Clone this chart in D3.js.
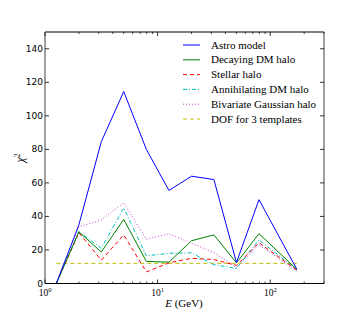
<!DOCTYPE html>
<html><head><meta charset="utf-8">
<script src="https://cdn.jsdelivr.net/npm/d3@7"></script>
<style>html,body{margin:0;padding:0;background:#fff;} svg{display:block;}</style>
</head><body>
<svg id="c" width="360" height="315"></svg>
<script>
const energies = [1.26, 2.0, 3.16, 5.0, 7.94, 12.6, 20.0, 31.6, 50.1, 79.4, 172];
const astro     = [0, 35, 84.5, 114.5, 80, 55.5, 64, 62, 12.5, 50, 8.5];
const decaying  = [0, 30.8, 18.8, 38.2, 13.2, 12.7, 25.5, 29, 12.3, 29.7, 8.4];
const stellar   = [0, 30.3, 13.9, 29, 6.9, 12.3, 15, 14.3, 10.8, 24.3, 8];
const annihil   = [0, 31, 21, 45, 16.5, 18, 18.3, 11.2, 9, 26, 8.2];
const bivariate = [0, 33.8, 37.8, 48.2, 26.3, 29.7, 24, 18.5, 9.5, 23.2, 7.2];
const dof       = [12, 12, 12, 12, 12, 12, 12, 12, 12, 12, 12];
const seriesNames = ["Astro model", "Decaying DM halo", "Stellar halo", "Annihilating DM halo", "Bivariate Gaussian halo", "DOF for 3 templates"];
const yTicks = [0, 20, 40, 60, 80, 100, 120, 140];
const xTicks = [1, 10, 100];
const xTickExp = ["0", "1", "2"];

const series = [
  {name: seriesNames[0], values: astro,     color: "#0000ff", dash: null},
  {name: seriesNames[1], values: decaying,  color: "#008000", dash: null},
  {name: seriesNames[2], values: stellar,   color: "#ff0000", dash: "4,3"},
  {name: seriesNames[3], values: annihil,   color: "#00bfbf", dash: "4,2,1,2"},
  {name: seriesNames[4], values: bivariate, color: "#d040d0", dash: "1,2"},
  {name: seriesNames[5], values: dof,       color: "#bfbf00", dash: "4,3"}
];

const svg = d3.select("#c");
const L = 45, R = 324, T = 32, B = 283.5;
const x = d3.scaleLog().domain([1, 300]).range([L, R]);
const y = d3.scaleLinear().domain([0, 150]).range([B, T]);

const serif = "'Liberation Serif', 'DejaVu Serif', serif";
const sans = "'DejaVu Sans', sans-serif";

const line = d3.line().x((d, i) => x(energies[i])).y(d => y(d));
svg.append("clipPath").attr("id", "clip").append("rect").attr("x", L).attr("y", T).attr("width", R - L).attr("height", B - T);
[5, 4, 3, 2, 1, 0].forEach(k => {
  const s = series[k];
  svg.append("path").datum(s.values).attr("d", line)
    .attr("fill", "none").attr("stroke", s.color).attr("stroke-width", 1)
    .attr("stroke-dasharray", s.dash).attr("clip-path", "url(#clip)");
});

// frame
svg.append("line").attr("x1", L).attr("x2", R).attr("y1", T).attr("y2", T).attr("stroke", "#000").attr("stroke-width", 1);
svg.append("line").attr("x1", L).attr("x2", R).attr("y1", B).attr("y2", B).attr("stroke", "#000").attr("stroke-width", 1);
svg.append("line").attr("x1", L).attr("x2", L).attr("y1", T).attr("y2", B).attr("stroke", "#888").attr("stroke-width", 1.6);
svg.append("line").attr("x1", R).attr("x2", R).attr("y1", T).attr("y2", B).attr("stroke", "#888").attr("stroke-width", 1.6);

// y ticks
yTicks.forEach(v => {
  svg.append("line").attr("x1", L).attr("x2", L + 4).attr("y1", y(v)).attr("y2", y(v)).attr("stroke", "#000").attr("stroke-width", 0.8);
  svg.append("line").attr("x1", R - 4).attr("x2", R).attr("y1", y(v)).attr("y2", y(v)).attr("stroke", "#000").attr("stroke-width", 0.8);
  svg.append("text").attr("x", L - 2).attr("y", y(v) + 3).attr("text-anchor", "end")
    .attr("font-family", sans).attr("font-size", 9).text(v);
});

// x ticks
const minor = [];
for (let e = 0; e <= 2; e++) for (let m = 2; m <= 9; m++) { const v = m * Math.pow(10, e); if (v <= 300) minor.push(v); }
minor.forEach(v => {
  svg.append("line").attr("x1", x(v)).attr("x2", x(v)).attr("y1", B).attr("y2", B - 2).attr("stroke", "#000").attr("stroke-width", 0.7);
  svg.append("line").attr("x1", x(v)).attr("x2", x(v)).attr("y1", T).attr("y2", T + 2).attr("stroke", "#000").attr("stroke-width", 0.7);
});
xTicks.forEach((v, i) => {
  svg.append("line").attr("x1", x(v)).attr("x2", x(v)).attr("y1", B).attr("y2", B - 4).attr("stroke", "#000").attr("stroke-width", 0.8);
  svg.append("line").attr("x1", x(v)).attr("x2", x(v)).attr("y1", T).attr("y2", T + 4).attr("stroke", "#000").attr("stroke-width", 0.8);
  const t = svg.append("text").attr("x", x(v)).attr("y", 295.5).attr("text-anchor", "middle")
    .attr("font-family", serif).attr("font-size", 9.5);
  t.append("tspan").text("10");
  t.append("tspan").attr("dy", -4).attr("font-size", 6.5).text(xTickExp[i]);
});

// axis labels
const xl = svg.append("text").attr("x", 184).attr("y", 307).attr("text-anchor", "middle")
  .attr("font-family", serif).attr("font-size", 11);
xl.append("tspan").attr("font-style", "italic").text("E");
xl.append("tspan").text(" (GeV)");
const yl = svg.append("text").attr("transform", "translate(24,158) rotate(-90)").attr("text-anchor", "middle")
  .attr("font-family", serif).attr("font-size", 12);
yl.append("tspan").attr("font-style", "italic").text("χ");
yl.append("tspan").attr("dy", -4).attr("font-size", 7.5).text("2");

// legend
series.forEach((s, i) => {
  const yy = 45 + i * 14.8;
  svg.append("line").attr("x1", 183).attr("x2", 200).attr("y1", yy).attr("y2", yy)
    .attr("stroke", s.color).attr("stroke-width", 1).attr("stroke-dasharray", s.dash);
  svg.append("text").attr("x", 211).attr("y", yy + 3.5).attr("font-family", serif).attr("font-size", 11).text(s.name);
});
</script>
</body></html>
